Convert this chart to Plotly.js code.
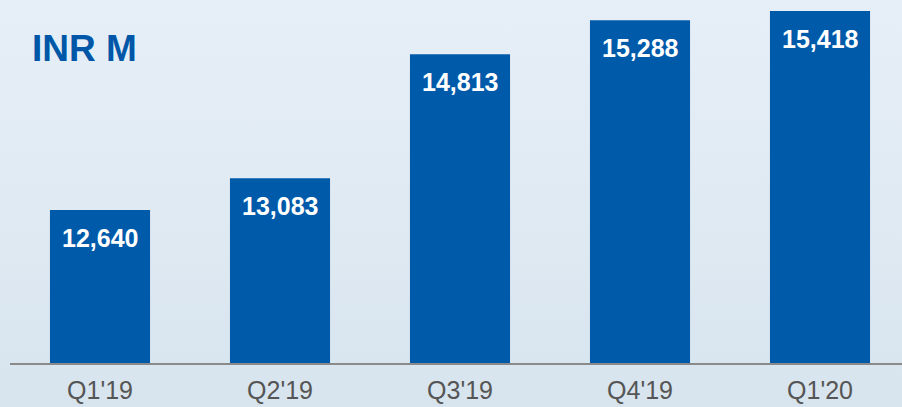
<!DOCTYPE html>
<html>
<head>
<meta charset="utf-8">
<script src="https://cdn.plot.ly/plotly-3.0.1.min.js"></script>
<style>
html,body{margin:0;padding:0;width:902px;height:407px;overflow:hidden;}
body{background:linear-gradient(180deg,#e6eff8 0%,#e0eaf3 50%,#d7e4ee 100%);}
#chart{width:902px;height:407px;}
</style>
</head>
<body>
<div id="chart"></div>
<script>
const categories = ["Q1'19", "Q2'19", "Q3'19", "Q4'19", "Q1'20"];
const values = [12640, 13083, 14813, 15288, 15418];
const unitLabel = "INR M";

const barColor = "#005AAA";

const trace = {
  type: "bar",
  x: categories,
  y: values,
  marker: {color: barColor, line: {width: 0}},
  hoverinfo: "none",
  width: 0.556
};

const annotations = categories.map((c, i) => ({
  x: c, y: values[i], xref: "x", yref: "y",
  text: values[i].toLocaleString("en-US"),
  showarrow: false, yanchor: "middle", yshift: -28,
  font: {family: "Liberation Sans, Arial, sans-serif", size: 25, color: "#ffffff", weight: "bold"}
}));
annotations.push({
  xref: "paper", yref: "paper", x: 0, y: 1, xanchor: "left", yanchor: "middle",
  xshift: 20, yshift: -48,
  text: "<b>" + unitLabel + "</b>", showarrow: false,
  font: {family: "Liberation Sans, Arial, sans-serif", size: 37, color: "#0057A8"}
});

const layout = {
  width: 902, height: 407,
  margin: {l: 10, r: 0, t: 0, b: 44},
  paper_bgcolor: "rgba(0,0,0,0)",
  plot_bgcolor: "rgba(0,0,0,0)",
  showlegend: false,
  xaxis: {
    type: "category",
    range: [-0.5, -0.5 + 892/180],
    showline: true, linecolor: "#8a8a8a", linewidth: 2,
    ticks: "", showgrid: false, zeroline: false,
    tickfont: {family: "Liberation Sans, Arial, sans-serif", size: 25, color: "#555555"},
    ticklabelstandoff: 4
  },
  yaxis: {
    range: [10504, 15572],
    visible: false, showgrid: false, zeroline: false
  },
  annotations: annotations
};

Plotly.newPlot("chart", [trace], layout, {displayModeBar: false, staticPlot: true});
</script>
</body>
</html>
